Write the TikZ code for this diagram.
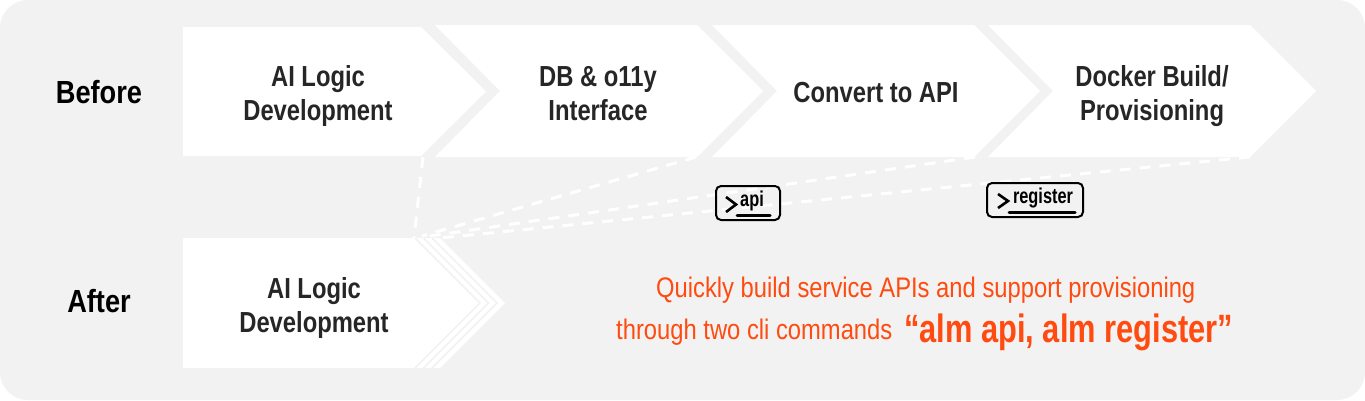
\documentclass[tikz,border=0pt]{standalone}
\usepackage{fontspec}
\setmainfont{Liberation Sans}
\newfontfamily\stepfont[FakeStretch=0.82]{Liberation Sans}
\newfontfamily\rowfont[FakeStretch=0.85]{Liberation Sans}
\newfontfamily\cmdfont[FakeStretch=0.76]{Liberation Sans}
\newfontfamily\notefont[FakeStretch=0.84]{Liberation Sans}
\newfontfamily\callfont[FakeStretch=0.78]{Liberation Sans}
\definecolor{panelgray}{HTML}{F2F2F2}
\definecolor{steptext}{HTML}{262626}
\definecolor{noteorange}{HTML}{FF4B0F}
\tikzset{
	stepshape/.style={fill=white, draw=none},
	steplabel/.style={align=center, text=steptext, font=\stepfont\fontsize{29}{34}\bfseries\selectfont, inner sep=0pt},
	rowlabel/.style={text=black, font=\rowfont\fontsize{32}{36}\bfseries\selectfont, inner sep=0pt},
	stripe/.style={draw=panelgray, line width=1.6pt, line join=miter},
	link/.style={draw=white, line width=3pt, dash pattern=on 11pt off 9pt},
	cmdbox/.style={draw=black, line width=2pt, rounded corners=5pt},
	cmdmark/.style={draw=black, line width=2.6pt},
	cmdline/.style={draw=black, line width=3pt, line cap=round},
	cmdlabel/.style={text=black, font=\cmdfont\fontsize{21.5}{24}\bfseries\selectfont, inner sep=0pt},
	note/.style={text=noteorange, inner sep=0pt, anchor=base west}
}
\begin{document}
\begin{tikzpicture}[x=1pt, y=-1pt]
	% Panel
	\useasboundingbox (0,0) rectangle (1365,400);
	\fill [white] (0,0) rectangle (1365,400);
	\fill [panelgray, rounded corners=28pt] (0,0) rectangle (1365,400);

	% Before row
	\path [stepshape] (183,27) -- (421,27) -- (486,91.5) -- (421,156) -- (183,156) -- cycle;
	\path [stepshape] (435,25) -- (697,25) -- (763,91) -- (697,157) -- (435,157) -- (500,91) -- cycle;
	\path [stepshape] (712,25) -- (974,25) -- (1040,91) -- (974,157) -- (712,157) -- (777,91) -- cycle;
	\path [stepshape] (988,25) -- (1250,25) -- (1316,91) -- (1250,157) -- (988,157) -- (1053,91) -- cycle;

	\node [rowlabel]  (before) at (99,92)    {Before};
	\node [steplabel] (logicA) at (318,95.5) {AI Logic\\Development};
	\node [steplabel] (iface)  at (598,93.5) {DB \& o11y\\Interface};
	\node [steplabel] (api)    at (876,93)   {Convert to API};
	\node [steplabel] (docker) at (1152,96)  {Docker Build/\\Provisioning};

	% After row
	\path [stepshape] (183,238) -- (440,238) -- (505,303) -- (440,368) -- (183,368) -- cycle;
	\draw [stripe] (415,238) -- (480,303) -- (415,368);
	\draw [stripe] (423.5,238) -- (488.5,303) -- (423.5,368);
	\draw [stripe] (432,238) -- (497,303) -- (432,368);

	\node [rowlabel]  (after)  at (99,301)   {After};
	\node [steplabel] (logicB) at (314,307.5){AI Logic\\Development};

	% Ends of the dashed links
	\coordinate (stepA) at (423,157);
	\coordinate (stepB) at (696,157);
	\coordinate (stepC) at (975,157);
	\coordinate (stepD) at (1250,157);
	\coordinate (backA) at (414,238);
	\coordinate (backB) at (422,236);
	\coordinate (backC) at (430,236);
	\coordinate (backD) at (440,238);

	\draw [link] (stepA) -- (backA);
	\draw [link] (stepB) -- (backB);
	\draw [link] (stepC) -- (backC);
	\draw [link] (stepD) -- (backD);

	% Commands
	\node [cmdlabel] (apilabel) at (752,200.5) {api};
	\draw [cmdbox] (716,186) rectangle (780,220);
	\draw [cmdmark] (726,197) -- (736,204.5) -- (726,212);
	\draw [cmdline] (737,215) -- (770,215);

	\node [cmdlabel] (reglabel) at (1043,197.5) {register};
	\draw [cmdbox] (987,183) rectangle (1083,217);
	\draw [cmdmark] (998,194) -- (1008,201) -- (998,208);
	\draw [cmdline] (1009,212) -- (1075,212);

	% Note
	\node [note, font=\notefont\fontsize{28.3}{31}\selectfont] (noteA) at (656,297) {Quickly build service APIs and support provisioning};
	\node [note, font=\notefont\fontsize{28.3}{31}\selectfont] (noteB) at (616,339) {through two cli commands};
	\node [note, font=\callfont\fontsize{39.5}{42}\bfseries\selectfont] (noteC) at (904,342) {“alm api, alm register”};
\end{tikzpicture}
\end{document}
